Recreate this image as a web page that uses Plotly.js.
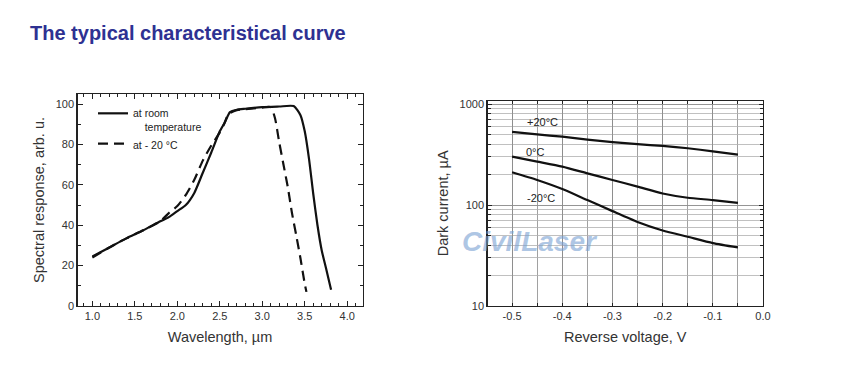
<!DOCTYPE html>
<html>
<head>
<meta charset="utf-8">
<script src="https://cdn.plot.ly/plotly-3.0.1.min.js"></script>
<style>html,body{margin:0;padding:0;background:#fff;}#chart{width:844px;height:386px;}</style>
</head>
<body>
<div id="chart"></div>
<script>
// Left chart: spectral response
const roomX = [1.0, 1.2, 1.4, 1.6, 1.8, 1.9, 2.0, 2.1, 2.2, 2.3, 2.4, 2.5, 2.56, 2.62, 2.7, 2.8, 3.0, 3.2, 3.37, 3.45, 3.5, 3.55, 3.6, 3.65, 3.7, 3.75, 3.81];
const roomY = [24.5, 29, 33.5, 37.5, 42, 44, 47, 50, 56, 66, 76, 86.5, 91, 96, 97.2, 97.7, 98.5, 98.8, 99, 94.5, 86.5, 73, 55.6, 40, 27.5, 18.8, 8];
const coldX = [1.0, 1.2, 1.4, 1.6, 1.8, 1.9, 2.0, 2.1, 2.2, 2.3, 2.4, 2.5, 2.55, 2.6, 2.7, 2.8, 3.0, 3.1, 3.15, 3.2, 3.25, 3.3, 3.35, 3.4, 3.45, 3.5, 3.52];
const coldY = [24, 29, 33.5, 37.5, 42, 46, 49.5, 55, 62.5, 72, 79.5, 86, 90, 95, 97, 97.5, 98.3, 98.5, 93, 81, 70, 59, 46, 35, 23.5, 11, 7];
const legendNames = ["at room<br>\u00a0\u00a0\u00a0\u00a0temperature", "at - 20 \u00b0C"];

// Right chart: dark current vs reverse voltage
const voltage = [-0.5, -0.45, -0.4, -0.35, -0.3, -0.25, -0.2, -0.15, -0.1, -0.05];
const dark20 = [530, 500, 475, 445, 420, 400, 385, 365, 340, 315];
const dark0 = [301, 269, 240, 206, 177, 152, 130, 118, 112, 105];
const darkM20 = [211, 177, 144, 112, 87, 68, 56, 48.5, 42, 38];
const curveLabels = ["+20\u00b0C", "0\u00b0C", "-20\u00b0C"];
const vTickVals = [-0.5, -0.4, -0.3, -0.2, -0.1, 0.0];
const vTickText = ["-0.5", "-0.4", "-0.3", "-0.2", "-0.1", "0.0"];
const yTickVals = [10, 100, 1000];
const yTickText = ["10", "100", "1000"];

const W = 844, H = 386;
const FONT = "Liberation Sans, Arial, sans-serif";
const TXT = "#333333";

const traces = [
  {x: roomX, y: roomY, type: "scatter", mode: "lines", name: legendNames[0],
   line: {color: "#111", width: 2.2, shape: "spline", smoothing: 0.6}, xaxis: "x", yaxis: "y", legend: "legend"},
  {x: coldX, y: coldY, type: "scatter", mode: "lines", name: legendNames[1],
   line: {color: "#111", width: 2.2, dash: "10px,6px", shape: "spline", smoothing: 0.6}, xaxis: "x", yaxis: "y", legend: "legend"},
  {x: voltage, y: dark20, type: "scatter", mode: "lines", showlegend: false,
   line: {color: "#111", width: 2.2, shape: "spline", smoothing: 0.6}, xaxis: "x2", yaxis: "y2"},
  {x: voltage, y: dark0, type: "scatter", mode: "lines", showlegend: false,
   line: {color: "#111", width: 2.2, shape: "spline", smoothing: 0.6}, xaxis: "x2", yaxis: "y2"},
  {x: voltage, y: darkM20, type: "scatter", mode: "lines", showlegend: false,
   line: {color: "#111", width: 2.2, shape: "spline", smoothing: 0.6}, xaxis: "x2", yaxis: "y2"}
];

const px2x = p => p / W;
const py2y = p => 1 - p / H;

const layout = {
  width: W, height: H,
  margin: {l: 0, r: 0, t: 0, b: 0},
  paper_bgcolor: "#fff", plot_bgcolor: "#fff",
  font: {family: FONT, color: TXT, size: 11},
  title: {text: "<b>The typical characteristical curve</b>", x: px2x(30), xanchor: "left", xref: "paper",
          y: py2y(33), yanchor: "middle", yref: "container",
          font: {family: FONT, size: 20, color: "#2e3192"}},
  showlegend: true,
  legend: {x: px2x(93), y: py2y(100), xanchor: "left", yanchor: "top", bgcolor: "rgba(0,0,0,0)",
           font: {family: FONT, size: 10.5, color: "#222"}, valign: "top", itemwidth: 30,
           tracegroupgap: 0, itemclick: false},
  xaxis: {domain: [px2x(77.5), px2x(362.5)], range: [0.825, 4.18], anchor: "y",
          showline: true, linecolor: "#222", linewidth: 1.2, mirror: "allticks",
          ticks: "inside", ticklen: 5, tickcolor: "#222", tickwidth: 1,
          dtick: 0.5, tick0: 1.0, tickformat: ".1f", showgrid: false, zeroline: false,
          minor: {dtick: 0.1, ticks: "inside", ticklen: 3, tickcolor: "#222", showgrid: false},
          tickfont: {size: 11, color: TXT},
          title: {text: "Wavelength, \u00b5m", font: {size: 14.5, color: TXT}, standoff: 10}},
  yaxis: {domain: [py2y(306), py2y(94)], range: [0, 105], anchor: "x",
          showline: true, linecolor: "#222", linewidth: 1.2, mirror: "allticks",
          ticks: "inside", ticklen: 5, tickcolor: "#222", tickwidth: 1,
          dtick: 20, showgrid: false, zeroline: false,
          minor: {dtick: 10, ticks: "inside", ticklen: 3, tickcolor: "#222", showgrid: false},
          tickfont: {size: 11, color: TXT},
          title: {text: "Spectral response, arb. u.", font: {size: 14.5, color: TXT}, standoff: 7}},
  xaxis2: {domain: [px2x(487.5), px2x(763)], range: [-0.549, 0], anchor: "y2",
          showline: true, linecolor: "#222", linewidth: 1.2, mirror: "allticks",
          ticks: "inside", ticklen: 3, tickcolor: "#222",
          tickmode: "array", tickvals: vTickVals, ticktext: vTickText,
          showgrid: true, gridcolor: "#8a8a8a", gridwidth: 0.8, zeroline: false,
          minor: {dtick: 0.05, tick0: 0, ticks: "inside", ticklen: 3, tickcolor: "#222", showgrid: true, gridcolor: "#8a8a8a", gridwidth: 0.8},
          tickfont: {size: 11, color: TXT},
          title: {text: "Reverse voltage, V", font: {size: 14.5, color: TXT}, standoff: 10}},
  yaxis2: {domain: [py2y(306), py2y(100.7)], type: "log", range: [1, 3.033], anchor: "x2",
          showline: true, linecolor: "#222", linewidth: 1.2, mirror: "allticks",
          ticks: "inside", ticklen: 4, tickcolor: "#222",
          tickmode: "array", tickvals: yTickVals, ticktext: yTickText,
          showgrid: true, gridcolor: "#8a8a8a", gridwidth: 0.8, zeroline: false,
          minor: {dtick: "D1", ticks: "inside", ticklen: 3, tickcolor: "#222", showgrid: true, gridcolor: "#b0b0b0", gridwidth: 0.8},
          tickfont: {size: 11, color: TXT},
          title: {text: "Dark current, \u00b5A", font: {size: 14.5, color: TXT}, standoff: 7}},
  annotations: [
    {x: -0.44, y: Math.log10(668), xref: "x2", yref: "y2", text: curveLabels[0], showarrow: false,
     font: {size: 11, color: "#222"}},
    {x: -0.454, y: Math.log10(338), xref: "x2", yref: "y2", text: curveLabels[1], showarrow: false,
     font: {size: 11, color: "#222"}},
    {x: -0.442, y: Math.log10(117), xref: "x2", yref: "y2", text: curveLabels[2], showarrow: false,
     font: {size: 11, color: "#222"}},
    {x: px2x(530), y: py2y(241), xref: "paper", yref: "paper", text: "<b><i>CivilLaser</i></b>", showarrow: false,
     font: {family: FONT, size: 28, color: "rgba(120,160,210,0.6)"}}
  ]
};

Plotly.newPlot("chart", traces, layout, {staticPlot: true, displayModeBar: false});
</script>
</body>
</html>
